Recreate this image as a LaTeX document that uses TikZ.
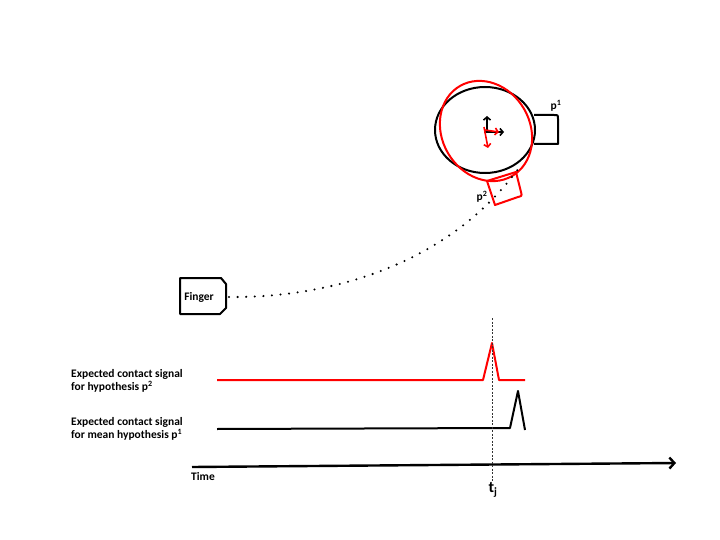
\documentclass[tikz,border=0pt]{standalone}
\usepackage{fontspec}
\setmainfont{Carlito}
\usetikzlibrary{arrows.meta}
\begin{document}
\begin{tikzpicture}[x=1pt,y=-1pt,
  lbl/.style={font=\bfseries\fontsize{11.5}{13}\selectfont,align=left,inner sep=0pt},
  sig/.style={line width=2pt,line join=round},
  frame/.style={line width=1.6pt,-{Straight Barb[length=3pt,width=7pt]}}]
\useasboundingbox (0,0) rectangle (720,540);
% object, mean pose (black) and hypothesis (red)
\draw[line width=2pt] (485,130) ellipse [x radius=50, y radius=43];
\draw[line width=2pt,red,rotate around={-60:(486,131)}] (486,131) ellipse [x radius=52, y radius=44];
\draw[frame] (487,133) -- (487,116);
\draw[frame] (484,132) -- (504,132);
\draw[frame,red] (485,130) -- (499,132);
\draw[frame,red] (484,127) -- (488,148);
% contact patches
\draw[line width=2pt,line join=round] (534,115) -- (554,115) .. controls (558,115) .. (558,119) -- (558,144) -- (534,144);
\draw[line width=2pt,red,line join=round] (487,181) -- (516,172) -- (521,192) .. controls (522,196) .. (518,197) -- (495,205) -- cycle;
\node[lbl] (p1) at (556,106) {p\textsuperscript{1}};
\node[lbl] (p2) at (482,197) {p\textsuperscript{2}};
% finger
\draw[line width=2pt,line join=round] (180,278) -- (221,278) -- (226,284) -- (226,308) -- (220,314) -- (180,314) -- cycle;
\node[lbl] (finger) at (199,297) {Finger};
\coordinate (tip) at (229,297);
\coordinate (touch) at (521,165);
\draw[line width=2.3pt,line cap=round,dash pattern=on 0pt off 8.6pt] (tip) .. controls (330,298) and (450,265) .. (touch);
% expected signals
\draw[sig,red] (217,380) -- (483,380) -- (492,343) -- (499,380) -- (525,380);
\draw[sig] (217,429) -- (510,428) -- (518,391) -- (525,430);
\node[lbl,anchor=west] (sigred) at (71,381) {Expected contact signal\\for hypothesis p\textsuperscript{2}};
\node[lbl,anchor=west] (sigblack) at (71,429) {Expected contact signal\\for mean hypothesis p\textsuperscript{1}};
% time axis
\coordinate (t0) at (192,467);
\coordinate (t1) at (676,463);
\draw[line width=2.4pt,-{Straight Barb[length=5pt,width=11pt]}] (t0) -- (t1);
\draw[line width=0.6pt,dash pattern=on 2pt off 1.5pt,black!80] (492,318) -- (492,481);
\node[lbl,anchor=west] (time) at (191,477) {Time};
\node[font=\bfseries\fontsize{16}{18}\selectfont,inner sep=0pt] (tj) at (493,490) {t\textsubscript{j}};
\end{tikzpicture}
\end{document}
